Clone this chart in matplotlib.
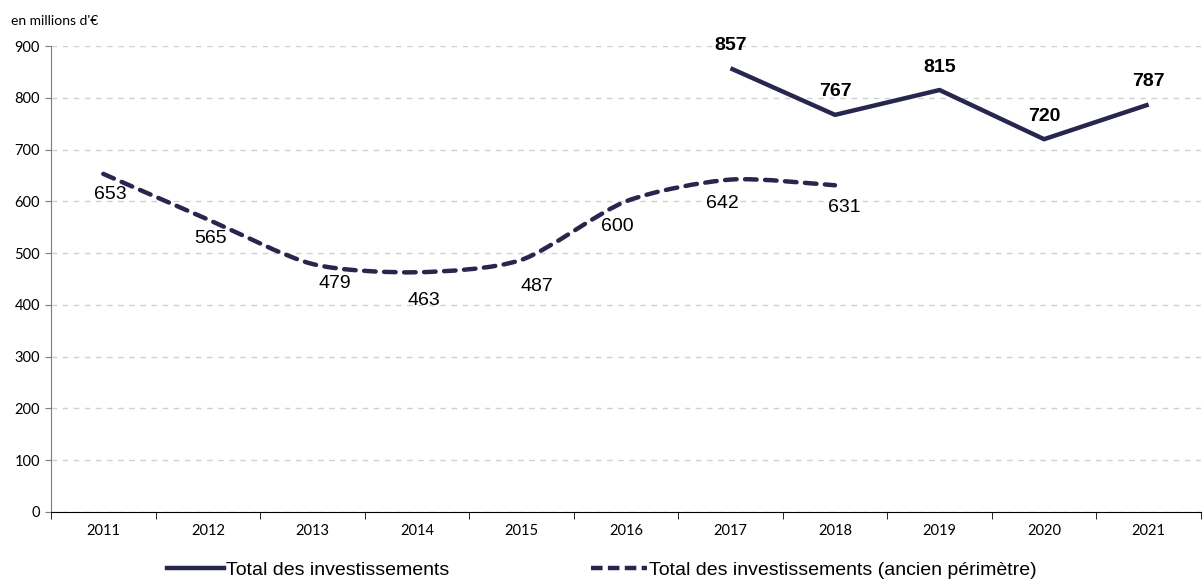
import matplotlib
matplotlib.use("Agg")
import matplotlib.pyplot as plt
from matplotlib.path import Path
from matplotlib.patches import PathPatch
from matplotlib.lines import Line2D
import numpy as np

plt.rcParams['font.family'] = ['Liberation Sans', 'DejaVu Sans']

years = ["2011", "2012", "2013", "2014", "2015", "2016", "2017", "2018", "2019", "2020", "2021"]
total_years = ["2017", "2018", "2019", "2020", "2021"]
total_values = [857, 767, 815, 720, 787]
ancien_years = ["2011", "2012", "2013", "2014", "2015", "2016", "2017", "2018"]
ancien_values = [653, 565, 479, 463, 487, 600, 642, 631]

navy = "#27264F"

fig = plt.figure(figsize=(12.04, 5.86), dpi=100)
ax = fig.add_axes([0.0424, 0.1263, 0.955, 0.7952])

xpos = {y: i for i, y in enumerate(years)}
tx = np.array([xpos[y] for y in total_years], dtype=float)
ax_ = np.array([xpos[y] for y in ancien_years], dtype=float)

# Solid series
ax.plot(tx, total_values, color=navy, lw=3.2, solid_capstyle='butt', zorder=3)

# Smoothed dashed series (Catmull-Rom -> Bezier, like Excel smoothing)
def smooth_path(xs, ys, t=0.13):
    pts = np.column_stack([xs, ys]).astype(float)
    verts = [pts[0]]
    codes = [Path.MOVETO]
    n = len(pts)
    for i in range(n - 1):
        p0 = pts[i - 1] if i > 0 else pts[i]
        p1 = pts[i]
        p2 = pts[i + 1]
        p3 = pts[i + 2] if i + 2 < n else pts[i + 1]
        c1 = p1 + (p2 - p0) * t
        c2 = p2 - (p3 - p1) * t
        verts += [c1, c2, p2]
        codes += [Path.CURVE4] * 3
    return Path(verts, codes)

patch = PathPatch(smooth_path(ax_, ancien_values), facecolor='none', edgecolor=navy,
                  lw=3.2, linestyle=(0, (2.6, 1.9)), zorder=3, capstyle='round')
ax.add_patch(patch)

# Labels
for x, v in zip(tx, total_values):
    ax.annotate(str(v), (x, v), xytext=(0, 16.5), textcoords='offset points',
                ha='center', va='center', fontsize=14, fontweight='bold', color='black')
anc_off = [(5, -15), (2, -14), (16, -14), (5, -20.5), (11, -19), (-6, -18), (-6, -17), (7, -16)]
for x, v, off in zip(ax_, ancien_values, anc_off):
    ax.annotate(str(v), (x, v), xytext=off, textcoords='offset points',
                ha='center', va='center', fontsize=14, color='black')

ax.set_xlim(-0.5, len(years) - 0.5)
ax.set_ylim(0, 900)
ax.set_yticks(range(0, 901, 100))
ax.tick_params(axis='y', labelsize=10.5, length=4, color='#7F7F7F', pad=4)
ax.set_xticks(np.arange(len(years)))
ax.set_xticklabels(years)
ax.set_xticks(np.arange(-0.5, len(years)), minor=True)
ax.tick_params(axis='x', which='major', length=0, labelsize=10.5, pad=9)
ax.tick_params(axis='x', which='minor', length=5, color='black')
for lab in ax.get_xticklabels() + ax.get_yticklabels():
    lab.set_family(['Lato', 'DejaVu Sans'])

ax.grid(axis='y', color='#D0D0D0', linestyle=(0, (4, 4)), lw=1)
ax.set_axisbelow(True)
for s in ['top', 'right']:
    ax.spines[s].set_visible(False)
ax.spines['left'].set_color('#7F7F7F')
ax.spines['bottom'].set_color('black')

fig.text(0.009, 0.965, "en millions d'€", fontsize=10, ha='left', va='center',
         family=['Lato', 'DejaVu Sans'])

handles = [Line2D([], [], color=navy, lw=3.2),
           Line2D([], [], color=navy, lw=3.2, linestyle=(0, (2.6, 1.2)))]
fig.legend(handles, ["Total des investissements", "Total des investissements (ancien périmètre)"],
           loc='center', bbox_to_anchor=(0.5, 0.027), ncol=2, frameon=False,
           fontsize=14, handlelength=2.9, handletextpad=0.1, columnspacing=7.3)

fig.savefig("out.png", dpi=100)
